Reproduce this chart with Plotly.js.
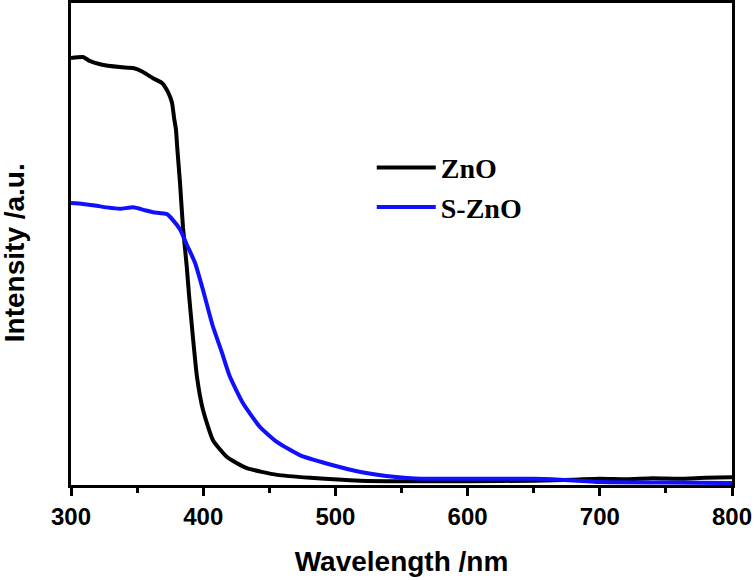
<!DOCTYPE html>
<html>
<head>
<meta charset="utf-8">
<script src="https://cdn.plot.ly/plotly-3.0.1.min.js"></script>
<style>html,body{margin:0;padding:0;background:#fff;}#chart{width:756px;height:580px;}</style>
</head>
<body>
<div id="chart"></div>
<script>
// ZnO spectrum (wavelength nm, intensity a.u.)
const znoWavelength = [300,309,314,322,337,347,354.5,362,368.8,373.4,376.4,377.9,379.4,380.5,382.5,384.7,387.5,389.3,391.5,395.3,399.8,407.4,418,433,456,481,519,550,600,650,680,700,720,740,760,780,800];
const znoIntensity  = [88.6,88.8,88.0,87.3,86.7,86.5,85.7,84.4,83.4,81.5,79.3,76.3,73.7,69.5,62.5,53.5,45.5,39.4,32.8,22.4,15.6,9.3,5.8,3.5,2.1,1.5,0.9,0.8,0.8,0.9,1.1,1.3,1.2,1.4,1.3,1.5,1.6];
// S-ZnO spectrum
const sznoWavelength = [300,309,318,327,337,347,356,362,372.6,377,382.5,387.7,393.8,400,407,414,420,430,443,456,473,494,519,544,564,600,650,670,690,700,750,800];
const sznoIntensity  = [58.5,58.3,58.0,57.6,57.3,57.6,57.0,56.6,56.2,55.0,53.0,49.8,46.1,40.3,33.2,27.6,22.6,17.0,12.0,8.9,6.2,4.4,2.7,1.7,1.3,1.3,1.3,1.1,0.8,0.6,0.5,0.4];
const seriesNames = ["ZnO", "S-ZnO"];
const xTickVals = [300,400,500,600,700,800];
const yTitle = 'Intensity /a.u.';
const xTitle = 'Wavelength /nm';

const traces = [
  {x: znoWavelength, y: znoIntensity, name: seriesNames[0], type: 'scatter', mode: 'lines',
   line: {color: '#000000', width: 4, shape: 'spline', smoothing: 0.5}, legendgroup: 'a'},
  {x: sznoWavelength, y: sznoIntensity, name: seriesNames[1], type: 'scatter', mode: 'lines',
   line: {color: '#1010ff', width: 4, shape: 'spline', smoothing: 0.5}, legendgroup: 'b'}
];

const layout = {
  width: 756, height: 580,
  margin: {l: 71, r: 24, t: 3, b: 95},
  paper_bgcolor: '#fff', plot_bgcolor: '#fff',
  showlegend: true,
  legend: {x: 0.455, y: 0.71, xanchor: 'left', yanchor: 'top', bgcolor: 'rgba(0,0,0,0)',
           font: {family: 'Liberation Serif', size: 28, color: '#000', weight: 'bold'},
           itemwidth: 59, tracegroupgap: 0},
  xaxis: {
    range: [300, 800], tickvals: xTickVals, ticktext: xTickVals.map(String),
    ticks: 'outside', ticklen: 8, tickwidth: 3, tickcolor: '#000',
    minor: {dtick: 50, ticks: 'outside', ticklen: 5, tickwidth: 3, tickcolor: '#000'},
    showline: true, linewidth: 3, linecolor: '#000', mirror: true,
    showgrid: false, zeroline: false,
    tickfont: {family: 'Liberation Sans', size: 24, color: '#000', weight: 'bold'},
    title: {text: xTitle, font: {family: 'Liberation Sans', size: 28, color: '#000', weight: 'bold'}, standoff: 23}
  },
  yaxis: {
    range: [0, 100], showticklabels: false, ticks: '',
    showline: true, linewidth: 3, linecolor: '#000', mirror: true,
    showgrid: false, zeroline: false
  },
  annotations: [{
    text: yTitle, xref: 'paper', yref: 'paper', x: -0.0862, y: 0.481,
    xanchor: 'center', yanchor: 'middle', textangle: -90, showarrow: false,
    font: {family: 'Liberation Sans', size: 28, color: '#000', weight: 'bold'}
  }]
};

Plotly.newPlot('chart', traces, layout, {staticPlot: true, displayModeBar: false});
</script>
</body>
</html>
